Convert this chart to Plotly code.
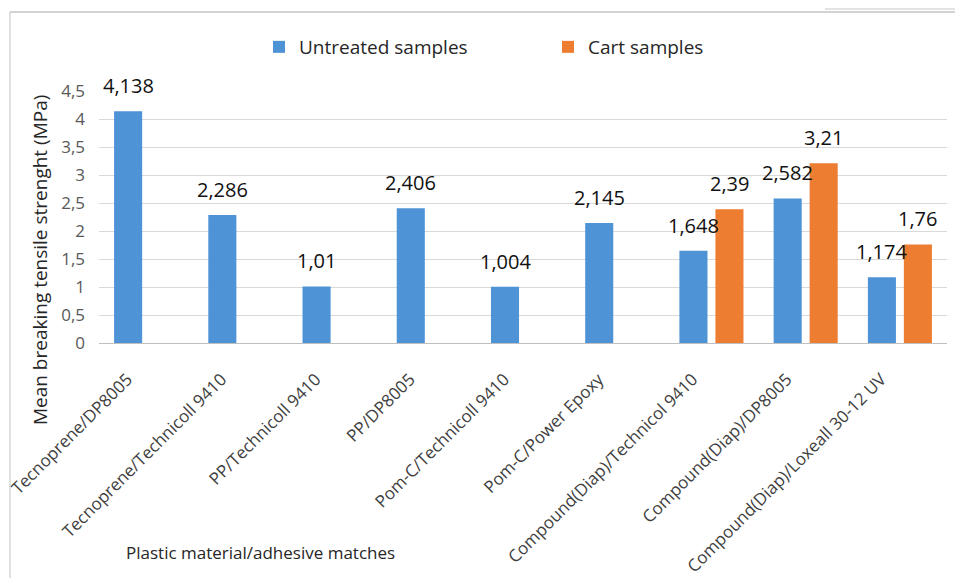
import plotly.graph_objects as go

categories = [
    "Tecnoprene/DP8005",
    "Tecnoprene/Technicoll 9410",
    "PP/Technicoll 9410",
    "PP/DP8005",
    "Pom-C/Technicoll 9410",
    "Pom-C/Power Epoxy",
    "Compound(Diap)/Technicol 9410",
    "Compound(Diap)/DP8005",
    "Compound(Diap)/Loxeall 30-12 UV",
]
untreated = [4.138, 2.286, 1.01, 2.406, 1.004, 2.145, 1.648, 2.582, 1.174]
cart = [None, None, None, None, None, None, 2.39, 3.21, 1.76]
ytick_vals = [0, 0.5, 1, 1.5, 2, 2.5, 3, 3.5, 4, 4.5]
ytick_text = ["0", "0,5", "1", "1,5", "2", "2,5", "3", "3,5", "4", "4,5"]

BLUE = "#4E93D6"
ORANGE = "#ED7D31"
FONT = "Open Sans"

fig = go.Figure()
fig.add_trace(go.Bar(name="Untreated samples", x=categories, y=untreated,
                     marker=dict(color=BLUE, line=dict(width=0))))
fig.add_trace(go.Bar(name="Cart samples", x=categories, y=cart,
                     marker=dict(color=ORANGE, line=dict(width=0))))

def fmt(v):
    return str(v).replace(".", ",")

annotations = []
for series, shift in ((untreated, -18), (cart, 18)):
    for c, v in zip(categories, series):
        if v is None:
            continue
        annotations.append(dict(x=c, y=v, xref="x", yref="y", text=fmt(v),
                                showarrow=False, xanchor="center", yanchor="bottom",
                                xshift=shift, yshift=10,
                                font=dict(family=FONT, size=20, color="#111111")))

annotations.append(dict(x=-0.0696, y=0.329, xref="paper", yref="paper",
                        text="Mean breaking tensile strenght (MPa)", textangle=-90,
                        showarrow=False, xanchor="center", yanchor="middle",
                        font=dict(family=FONT, size=19, color="#262626")))
annotations.append(dict(x=0.19, y=-0.833, xref="paper", yref="paper",
                        text="Plastic material/adhesive matches",
                        showarrow=False, xanchor="center", yanchor="middle",
                        font=dict(family=FONT, size=17, color="#262626")))

fig.update_layout(
    width=955, height=570,
    margin=dict(l=91, r=16, t=83, b=235, autoexpand=False),
    paper_bgcolor="white", plot_bgcolor="white",
    barmode="group", bargap=0.236, bargroupgap=0.22,
    showlegend=True,
    legend=dict(orientation="h", x=0.1887, y=1.1746, yanchor="middle",
                xanchor="left", entrywidth=244, entrywidthmode="pixels",
                font=dict(family=FONT, size=19, color="#262626"),
                traceorder="normal", bgcolor="rgba(0,0,0,0)"),
    annotations=annotations,
    font=dict(family=FONT),
    shapes=[
        dict(type="line", xref="paper", yref="paper", x0=-0.105, x1=1.1,
             y0=1.3135, y1=1.3135, line=dict(color="#C4C4C4", width=1.5)),
        dict(type="line", xref="paper", yref="paper", x0=-0.105, x1=-0.105,
             y0=1.3135, y1=-1.0, line=dict(color="#D6D6D6", width=1.5)),
        dict(type="rect", xref="paper", yref="paper", x0=0.856, x1=1.1,
             y0=1.3215, y1=1.35, fillcolor="#E3E3E3", line=dict(width=0)),
    ],
)
fig.update_xaxes(
    tickangle=-45, tickfont=dict(family=FONT, size=17, color="#404040"),
    tickvals=categories, ticktext=[c + "\u00a0" * 6 for c in categories],
    showline=True, linecolor="#BFBFBF", linewidth=1, showgrid=False,
    ticks="", categoryorder="array", categoryarray=categories,
)
fig.update_yaxes(
    range=[0, 4.5], tickvals=ytick_vals, ticktext=ytick_text,
    showgrid=True, gridcolor="#D9D9D9", gridwidth=1, zeroline=False,
    tickfont=dict(family=FONT, size=17, color="#595959"), ticks="",
    ticklabelstandoff=13,
)

fig.write_html("out.html")
